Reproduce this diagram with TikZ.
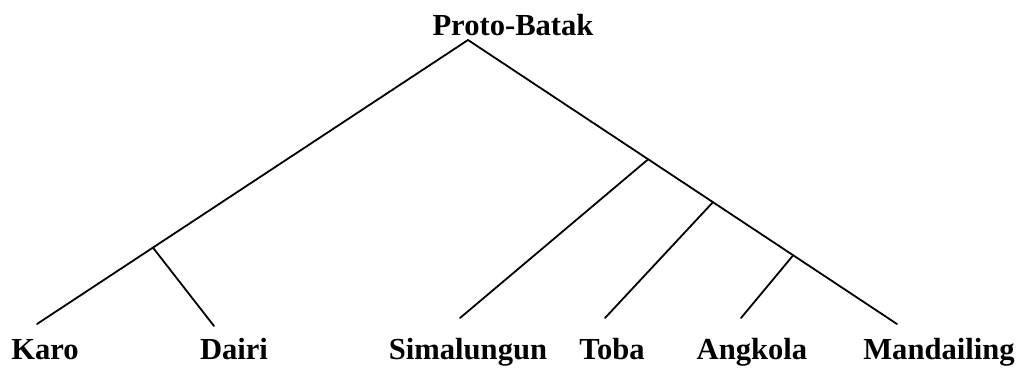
\documentclass[tikz,border=0pt]{standalone}
\usepackage{fontspec}
\setmainfont{Liberation Serif}
\usetikzlibrary{positioning,calc}
\tikzset{
  lang/.style={font=\fontsize{15.3}{18}\selectfont\bfseries, inner sep=0pt, anchor=base},
  limb/.style={line width=0.9pt, line cap=round}
}
\begin{document}
\begin{tikzpicture}[x=0.5pt,y=-0.5pt]
  \useasboundingbox (0,0) rectangle (1020,371);
  \node[lang] (proto) at (513,35) {Proto-Batak};
  \foreach \nm/\x/\txt in {karo/45/Karo, dairi/234/Dairi, sima/468/Simalungun, toba/612/Toba, angk/752/Angkola, mand/939/Mandailing}
    \node[lang] (\nm) at (\x,359) {\txt};
  % line ends above the labels
  \coordinate (top) at (468,40);
  \coordinate (karo-e) at (37,324);
  \coordinate (dairi-e) at (214,326);
  \coordinate (sima-e) at (460,318);
  \coordinate (toba-e) at (605,318);
  \coordinate (angk-e) at (741,318);
  \coordinate (mand-e) at (897,324);
  % branch points on the two main lines
  \coordinate (bk) at ($(top)!0.731!(karo-e)$);
  \coordinate (b1) at ($(top)!0.42!(mand-e)$);
  \coordinate (b2) at ($(top)!0.571!(mand-e)$);
  \coordinate (b3) at ($(top)!0.758!(mand-e)$);
  \draw[limb] (karo-e) -- (top) -- (mand-e);
  \draw[limb] (bk) -- (dairi-e);
  \draw[limb] (b1) -- (sima-e);
  \draw[limb] (b2) -- (toba-e);
  \draw[limb] (b3) -- (angk-e);
\end{tikzpicture}
\end{document}
